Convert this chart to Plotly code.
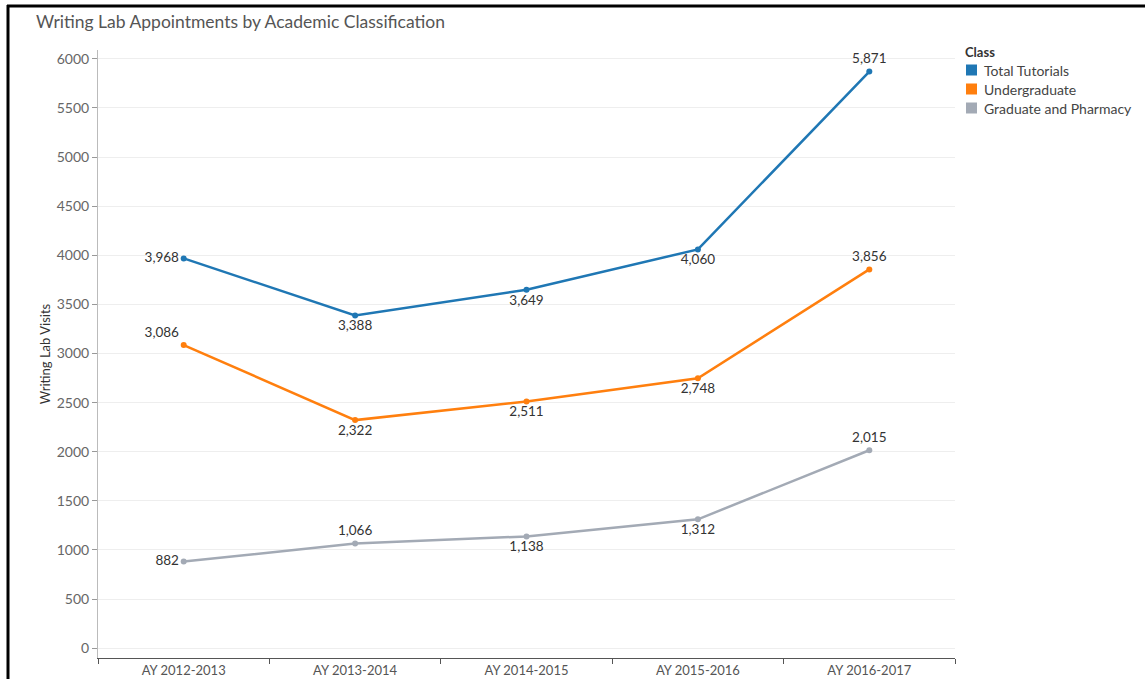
import plotly.graph_objects as go

# Academic years on the x axis
years = ["AY 2012-2013", "AY 2013-2014", "AY 2014-2015", "AY 2015-2016", "AY 2016-2017"]

# Writing lab visits per classification
total_tutorials = [3968, 3388, 3649, 4060, 5871]
undergraduate = [3086, 2322, 2511, 2748, 3856]
graduate_pharmacy = [882, 1066, 1138, 1312, 2015]

series = [
    ("Total Tutorials", total_tutorials, "#1f77b4",
     ["middle left", "bottom center", "bottom center", "bottom center", "top center"]),
    ("Undergraduate", undergraduate, "#ff7f0e",
     ["top left", "bottom center", "bottom center", "bottom center", "top center"]),
    ("Graduate and Pharmacy", graduate_pharmacy, "#a3aab5",
     ["middle left", "top center", "bottom center", "bottom center", "top center"]),
]

FONT = "Lato, 'Open Sans', sans-serif"

fig = go.Figure()
for name, vals, color, positions in series:
    fig.add_trace(go.Scatter(
        x=years, y=vals, mode="lines+markers+text",
        name=name, showlegend=False,
        line=dict(color=color, width=2.5),
        marker=dict(color=color, size=6),
        text=[f"{v:,}" for v in vals],
        textposition=positions,
        textfont=dict(family=FONT, size=13.5, color="#333333"),
        cliponaxis=False,
        hoverinfo="skip",
    ))

L, R = 98, 955
T, B = 50, 658
W, H = 1145, 679
pw, ph = R - L, B - T


def px(xp):
    return (xp - L) / pw


def py(yp):
    return (B - yp) / ph


# Legend drawn as swatches plus labels to the right of the plot
shapes = [
    dict(type="line", xref="paper", yref="paper",
         x0=px(8), x1=px(8), y0=py(H + 5), y1=py(5),
         line=dict(color="black", width=3)),
    dict(type="line", xref="paper", yref="paper",
         x0=px(7), x1=px(W + 5), y0=py(6), y1=py(6),
         line=dict(color="black", width=3)),
]
annotations = [
    dict(text="<b>Class</b>", xref="paper", yref="paper",
         x=px(963), y=py(52), xanchor="left", yanchor="middle",
         showarrow=False, font=dict(family=FONT, size=13, color="#333333")),
]
for i, (name, _, color, _) in enumerate(series):
    yc = 70 + 19 * i
    shapes.append(dict(type="rect", xref="paper", yref="paper",
                       x0=px(966), x1=px(977), y0=py(yc + 5.5), y1=py(yc - 5.5),
                       fillcolor=color, line=dict(width=0)))
    annotations.append(dict(text=name, xref="paper", yref="paper",
                            x=px(982), y=py(yc), xanchor="left", yanchor="middle",
                            showarrow=False,
                            font=dict(family=FONT, size=14, color="#444444")))

fig.update_layout(
    width=W, height=H,
    margin=dict(l=L, r=W - R, t=T, b=H - B),
    paper_bgcolor="white", plot_bgcolor="white",
    font=dict(family=FONT, size=13, color="#555555"),
    showlegend=False,
    title=dict(
        text="Writing Lab Appointments by Academic Classification",
        x=36 / W, xref="container", xanchor="left",
        y=1 - 22 / H, yref="container", yanchor="middle",
        font=dict(family=FONT, size=17.5, color="#555555"),
    ),
    xaxis=dict(
        type="category",
        automargin=False,
        showgrid=False,
        showline=True, linecolor="#555555", linewidth=1,
        ticks="outside", tickson="boundaries", ticklen=5, tickcolor="#555555",
        tickfont=dict(size=13, color="#555555"),
        range=[-0.5, 4.5],
    ),
    yaxis=dict(
        automargin=False,
        range=[-100, 6090],
        tickvals=list(range(0, 6001, 500)),
        showgrid=True, gridcolor="#eeeeee", gridwidth=1,
        zeroline=False,
        showline=True, linecolor="#bbbbbb", linewidth=1,
        ticks="outside", ticklen=5, tickcolor="#999999",
        tickfont=dict(size=14, color="#666666"),
        title=dict(text="Writing Lab Visits", standoff=3,
                   font=dict(size=13, color="#333333")),
    ),
    shapes=shapes,
    annotations=annotations,
)

fig.write_html("out.html")
